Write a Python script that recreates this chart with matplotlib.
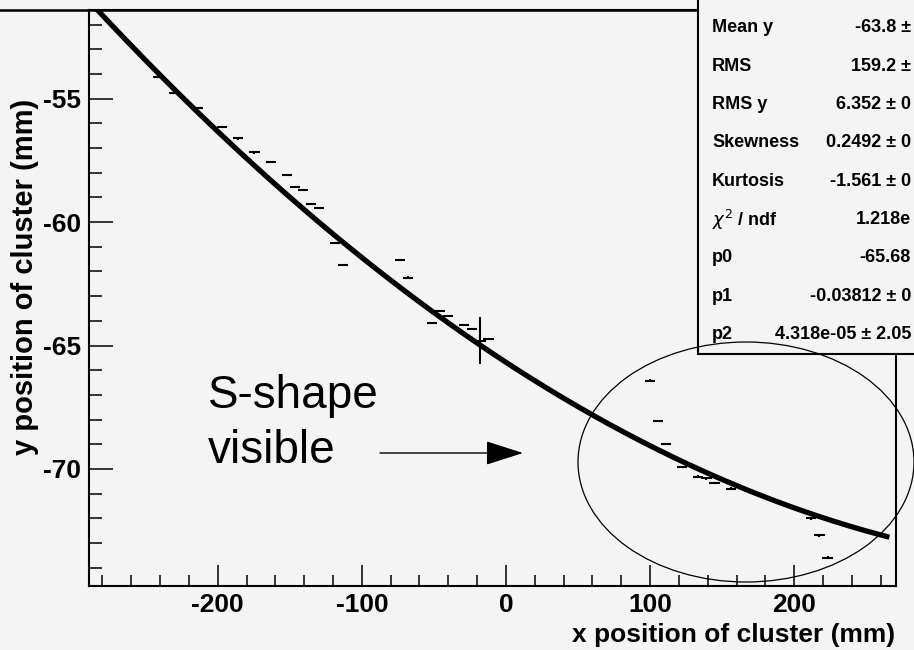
import matplotlib.pyplot as plt
import numpy as np
from matplotlib.lines import Line2D
from matplotlib.patches import Ellipse, FancyArrowPatch, Rectangle

# profile of cluster y position vs x position (bin centre, mean, error), mm
bin_x = [-241.7, -230.5, -213.7, -196.9, -185.7, -174.5, -163.3, -152.1,
         -146.5, -140.9, -135.3, -129.7, -118.5, -112.9, -73.7, -68.1,
         -51.3, -45.7, -40.1, -28.9, -23.3, -17.7, -12.1,
         99.9, 105.5, 111.1, 122.3, 133.5, 139.1, 144.7, 155.9,
         211.9, 217.5, 223.1]
bin_y = [-54.12, -54.77, -55.38, -56.15, -56.61, -57.18, -57.56, -58.09,
         -58.58, -58.70, -59.26, -59.43, -60.84, -61.74, -61.53, -62.25,
         -64.08, -63.60, -63.80, -64.17, -64.33, -64.80, -64.74,
         -66.42, -68.05, -68.99, -69.92, -70.31, -70.38, -70.56, -70.80,
         -72.00, -72.69, -73.59]
bin_yerr = [0.05] * 21 + [0.95] + [0.05] * 12
BIN_WIDTH = 7.0

# pol2 fit
p0, p1, p2 = -65.68, -0.03812, 4.318e-05
fit_range = (-289.3, 266.0)

stat_names = ['Mean y', 'RMS', 'RMS y', 'Skewness', 'Kurtosis',
              r'$\chi^{2}$ / ndf', 'p0', 'p1', 'p2']
stat_values = ['-63.8 \u00b1', '159.2 \u00b1', '6.352 \u00b1 0', '0.2492 \u00b1 0',
               '-1.561 \u00b1 0', '1.218e', '-65.68', '-0.03812 \u00b1 0',
               '4.318e-05 \u00b1 2.05']

BG = '#f4f4f4'
W, H = 914, 650

plt.rcParams['font.family'] = ['Liberation Sans', 'DejaVu Sans']
plt.rcParams['axes.unicode_minus'] = False


def fx(px):
    return px / W


def fy(py):
    return 1 - py / H


fig = plt.figure(figsize=(W / 100, H / 100), dpi=100, facecolor=BG)
ax = fig.add_axes([fx(89), fy(586), fx(896) - fx(89), fy(10) - fy(586)])
ax.set_facecolor(BG)
ax.set_xlim(-289.3, 270.6)
ax.set_ylim(-74.74, -51.41)

xs = np.linspace(fit_range[0], fit_range[1], 400)
ax.plot(xs, p0 + p1 * xs + p2 * xs ** 2, color='black', lw=3.8,
        solid_capstyle='butt', zorder=3)
ax.errorbar(bin_x, bin_y, xerr=BIN_WIDTH / 2, yerr=bin_yerr, fmt='none',
            ecolor='black', elinewidth=1.5, capsize=0, zorder=2)

# ROOT-like inward ticks
ax.set_xticks(np.arange(-200, 201, 100))
ax.set_xticks(np.arange(-280, 271, 20), minor=True)
ax.set_yticks([-70, -65, -60, -55])
ax.set_yticks(np.arange(-74, -51, 1), minor=True)
ax.tick_params(axis='x', which='major', direction='in', length=15, width=1.1,
               pad=5, labelsize=19)
ax.tick_params(axis='x', which='minor', direction='in', length=8, width=1.1)
ax.tick_params(axis='y', which='major', direction='in', length=17, width=1.1,
               pad=6, labelsize=19)
ax.tick_params(axis='y', which='minor', direction='in', length=9.5, width=1.1)
plt.setp(ax.get_xticklabels() + ax.get_yticklabels(), fontweight='bold')
for side in ('bottom', 'left', 'top', 'right'):
    ax.spines[side].set_linewidth(1.5)

fig.text(fx(895), fy(642), 'x position of cluster (mm)', ha='right',
         va='baseline', fontsize=19, fontweight='bold')
fig.text(fx(25), fy(277), 'y position of cluster (mm)', rotation=90,
         ha='center', va='center', fontsize=21, fontweight='bold')

fig.add_artist(Line2D([0, fx(698)], [fy(10), fy(10)], transform=fig.transFigure,
                      color='black', lw=1.8))

# stats box, running off the right edge
fig.add_artist(Rectangle((fx(698), fy(354)), 1, 1, transform=fig.transFigure,
                         fc=BG, ec='black', lw=1.5, zorder=4))
for i, (name, val) in enumerate(zip(stat_names, stat_values)):
    y = fy(28 + 38.3 * i)
    fig.text(fx(712), y, name, ha='left', va='center', fontsize=13,
             fontweight='bold', zorder=5)
    fig.text(fx(911), y, val, ha='right', va='center', fontsize=13,
             fontweight='bold', zorder=5)

# annotation: text placed by the baseline of its last line
fig.text(fx(208), fy(463), 'S-shape\nvisible', ha='left', va='baseline',
         fontsize=33, linespacing=1.32)
fig.add_artist(FancyArrowPatch((fx(380), fy(453)), (fx(523), fy(453)),
                               transform=fig.transFigure,
                               arrowstyle='-|>,head_length=1.19,head_width=0.38',
                               mutation_scale=20, lw=1, color='black',
                               shrinkA=0, shrinkB=0, zorder=6))
fig.add_artist(Ellipse((fx(746), fy(462)), 336 / W, 240 / H,
                       transform=fig.transFigure, fill=False, ec='black',
                       lw=0.9, zorder=6))

fig.savefig('out.png', dpi=100, facecolor=BG)
